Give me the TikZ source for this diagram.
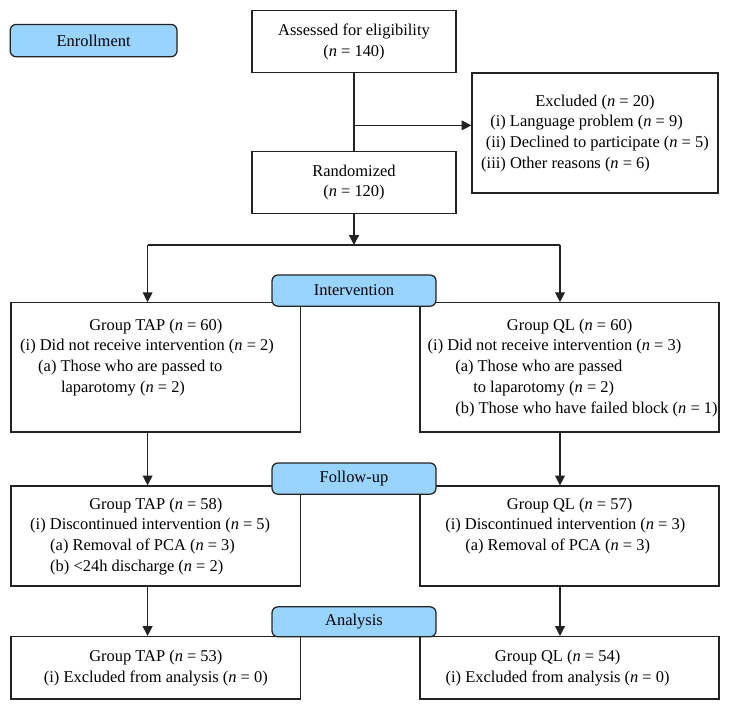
\documentclass[tikz,border=0pt]{standalone}
\usepackage{fontspec}
\setmainfont{Liberation Serif}
\usetikzlibrary{arrows.meta}

\definecolor{stagefill}{RGB}{153,212,255}
\definecolor{edgegray}{RGB}{35,35,35}
\newcommand{\ncount}[1]{(\textit{n}~=~#1)}

\begin{document}
\begin{tikzpicture}[
    font=\fontsize{11.7}{14.75}\selectfont,
    box/.style={draw=edgegray, line width=0.9pt, fill=white, inner sep=0pt, align=center},
    stage/.style={draw=edgegray, line width=0.9pt, fill=stagefill, rounded corners=0.15cm,
      inner sep=0pt, minimum width=4.1cm, minimum height=0.78cm},
    link/.style={draw=edgegray, line width=0.9pt},
    flow/.style={link, -{Triangle[length=7pt,width=7pt]}}
  ]
  \useasboundingbox (0,0) rectangle (18.25,17.775);

  % enrollment
  \node[box, minimum width=5.1cm, minimum height=1.55cm] (assess) at (8.85,16.73)
    {Assessed for eligibility\\\ncount{140}};
  \node[box, minimum width=5.1cm, minimum height=1.54cm] (random) at (8.85,13.21)
    {Randomized\\\ncount{120}};
  \node[box, minimum width=6.15cm, minimum height=3cm] (excl) at (14.875,14.45)
    {\begin{tabular}{@{}r@{~}l@{}}
      \multicolumn{2}{@{}c@{}}{Excluded \ncount{20}}\\
      (i) & Language problem \ncount{9}\\
      (ii) & Declined to participate \ncount{5}\\
      (iii) & Other reasons \ncount{6}
    \end{tabular}};

  % intervention
  \node[box, minimum width=7.24cm, minimum height=3.23cm] (tap1) at (3.896,8.59)
    {\begin{tabular}{@{}p{7.24cm}@{}}
      \multicolumn{1}{@{}c@{}}{Group TAP \ncount{60}}\\
      \hspace*{0.23cm}\mbox{(i) Did not receive intervention \ncount{2}}\\
      \hspace*{0.68cm}\mbox{(a) Those who are passed to}\\
      \hspace*{1.25cm}\mbox{laparotomy \ncount{2}}\\
      ~
    \end{tabular}};
  \node[box, minimum width=7.475cm, minimum height=3.23cm] (ql1) at (14.24,8.59)
    {\begin{tabular}{@{}p{7.475cm}@{}}
      \multicolumn{1}{@{}c@{}}{Group QL \ncount{60}}\\
      \hspace*{0.19cm}\mbox{(i) Did not receive intervention \ncount{3}}\\
      \hspace*{0.88cm}\mbox{(a) Those who are passed}\\
      \hspace*{1.33cm}\mbox{to laparotomy \ncount{2}}\\
      \hspace*{0.88cm}\mbox{(b) Those who have failed block \ncount{1}}
    \end{tabular}};

  % follow-up
  \node[box, minimum width=7.24cm, minimum height=2.5cm] (tap2) at (3.896,4.375)
    {\begin{tabular}{@{}p{7.24cm}@{}}
      \multicolumn{1}{@{}c@{}}{Group TAP \ncount{58}}\\
      \hspace*{0.48cm}\mbox{(i) Discontinued intervention \ncount{5}}\\
      \hspace*{0.98cm}\mbox{(a) Removal of PCA \ncount{3}}\\
      \hspace*{0.98cm}\mbox{(b) <24h discharge \ncount{2}}
    \end{tabular}};
  \node[box, minimum width=7.475cm, minimum height=2.5cm] (ql2) at (14.24,4.375)
    {\begin{tabular}{@{}p{7.475cm}@{}}
      \multicolumn{1}{@{}c@{}}{Group QL \ncount{57}}\\
      \hspace*{0.63cm}\mbox{(i) Discontinued intervention \ncount{3}}\\
      \hspace*{1.13cm}\mbox{(a) Removal of PCA \ncount{3}}\\
      ~
    \end{tabular}};

  % analysis
  \node[box, minimum width=7.24cm, minimum height=1.56cm] (tap3) at (3.896,1.08)
    {Group TAP \ncount{53}\\(i) Excluded from analysis \ncount{0}};
  \node[box, minimum width=7.475cm, minimum height=1.56cm] (ql3) at (14.24,1.08)
    {\begin{tabular}{@{}c@{\hspace{0.6cm}}}
      Group QL \ncount{54}\\
      (i) Excluded from analysis \ncount{0}
    \end{tabular}};

  % stage labels
  \node[stage, minimum width=4.17cm, minimum height=0.81cm] (enroll) at (2.34,16.76) {Enrollment};
  \node[stage] (interv) at (8.85,10.51) {Intervention};
  \node[stage] (follow) at (8.85,5.81) {Follow-up};
  \node[stage, minimum height=0.75cm] (analys) at (8.85,2.23) {Analysis};

  % connectors
  \coordinate (branch) at (8.85,14.64);
  \coordinate (split) at (8.85,11.65);
  \coordinate (lsplit) at (3.69,11.65);
  \coordinate (rsplit) at (14.0,11.65);

  \draw[link] (assess) -- (random);
  \draw[flow] (branch) -- (branch -| excl.west);
  \draw[flow] (random) -- (split);
  \draw[link] (lsplit) -- (rsplit);
  \draw[flow] (lsplit) -- (lsplit |- tap1.north);
  \draw[flow] (rsplit) -- (rsplit |- ql1.north);
  \draw[flow] (tap1.south -| lsplit) -- (tap2.north -| lsplit);
  \draw[flow] (ql1.south -| rsplit) -- (ql2.north -| rsplit);
  \draw[flow] (tap2.south -| lsplit) -- (tap3.north -| lsplit);
  \draw[flow] (ql2.south -| rsplit) -- (ql3.north -| rsplit);
\end{tikzpicture}
\end{document}
